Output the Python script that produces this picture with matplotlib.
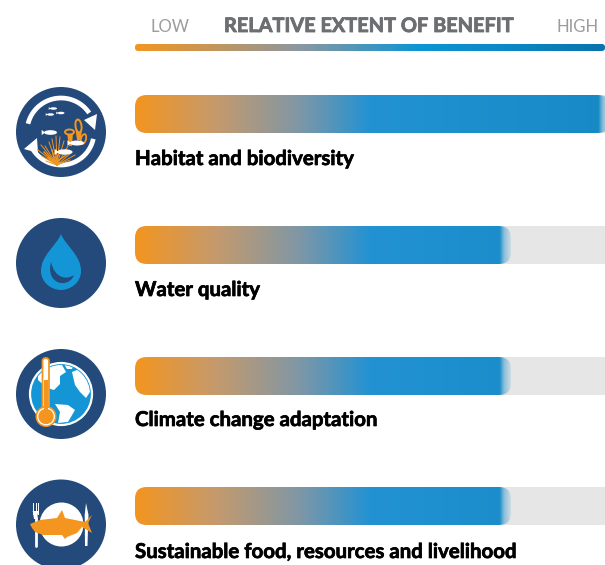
# Relative extent of benefit chart
import numpy as np
import matplotlib
matplotlib.use("Agg")
import matplotlib.pyplot as plt
import matplotlib.patheffects as pe
from matplotlib.colors import to_rgb
from matplotlib.patches import Circle, FancyBboxPatch, Polygon, Ellipse, PathPatch
from matplotlib.path import Path

# Data
categories = ["Habitat and biodiversity", "Water quality",
              "Climate change adaptation", "Sustainable food, resources and livelihood"]
benefit = [101, 80, 80, 80]  # first bar runs off the right edge
scale_low = "LOW"
scale_high = "HIGH"
scale_title = "RELATIVE EXTENT OF BENEFIT"

# Colours
ORANGE = "#F3951F"
NAVY = "#234A7B"
BLUE = "#1496D6"
bar_stops = [0, 17, 35, 50, 100]
bar_cols = [ORANGE, "#C69A6C", "#7F97A6", "#2292D3", "#178AC6"]
key_stops = [0, 35, 60, 80, 100]
key_cols = [ORANGE, "#8C97A0", "#0E95D3", "#0A88C4", "#0A72AC"]

W, H = 605, 565
fig = plt.figure(figsize=(W / 100, H / 100), dpi=100)

# pixel axes for layout and icons
ax = fig.add_axes([0, 0, 1, 1])
ax.set_xlim(0, W)
ax.set_ylim(H, 0)
ax.axis("off")

# value axes for the bars, 0-100 runs across the bar track
LEFT, RIGHT = 135, 605
ax_bar = fig.add_axes([LEFT / W, 0, (RIGHT - LEFT) / W, 1])
ax_bar.set_facecolor("none")
ax_bar.axis("off")


def ramp(xs, stops, cols):
    rgb = np.array([to_rgb(c) for c in cols])
    return np.stack([np.interp(xs, stops, rgb[:, i]) for i in range(3)], axis=1)


def draw_bar(value, y0, y1, stops, cols, radius, fade=0):
    x_end = LEFT + value / 100 * (RIGHT - LEFT)
    clip = FancyBboxPatch((LEFT, y0), x_end - LEFT, y1 - y0,
                          boxstyle=f"round,pad=0,rounding_size={radius}",
                          transform=ax.transData)
    xs = np.linspace(0, value, 940)
    rgba = np.ones((1, len(xs), 4))
    rgba[0, :, :3] = ramp(xs, stops, cols)
    if fade:
        px = LEFT + xs / 100 * (RIGHT - LEFT)
        rgba[0, :, 3] = np.interp(px, [x_end - fade, x_end - fade * 0.6, x_end], [1, 0.45, 0.12])
    im = ax_bar.imshow(rgba, extent=[0, value, y1, y0], aspect="auto", zorder=3)
    im.set_clip_path(clip)


bar_tops = [95, 226, 357, 487]
label_y = [165, 296, 426, 558]
for name, val, top, ly in zip(categories, benefit, bar_tops, label_y):
    track = FancyBboxPatch((LEFT, top), 600, 38, boxstyle="round,pad=0,rounding_size=12",
                           transform=ax.transData)
    bars = ax_bar.barh(top + 19, 100, height=38, color="#E6E6E6", zorder=1)
    bars[0].set_clip_path(track)
    draw_bar(val, top, top + 38, bar_stops, bar_cols, 12, fade=11)
    ax.text(LEFT, ly, name, family="Lato", weight="bold", fontsize=14.7, color="black",
            va="baseline", ha="left",
            path_effects=[pe.withStroke(linewidth=0.5, foreground="black")])

# scale key at the top
draw_bar(100, 44, 51, key_stops, key_cols, 3)
ax_bar.set_xlim(0, 100)
ax_bar.set_ylim(H, 0)

ax.text(151, 32, scale_low, family="Lato", weight="normal", fontsize=12, color="#9A9C9E")
ax.text(557, 32, scale_high, family="Lato", weight="normal", fontsize=12, color="#9A9C9E")
ax.text(224, 32, scale_title, family="Lato", weight="bold", fontsize=14.35, color="#6D6E71",
        path_effects=[pe.withStroke(linewidth=0.6, foreground="#6D6E71")])


# Icons
def fish(cx, cy, length, color="white"):
    ax.add_patch(Ellipse((cx, cy), length, length * 0.36, color=color, zorder=7, lw=0))
    tail = [(cx - length * 0.42, cy), (cx - length * 0.68, cy - length * 0.2),
            (cx - length * 0.68, cy + length * 0.2)]
    ax.add_patch(Polygon(tail, color=color, zorder=7, lw=0))


def icon_habitat(cx, cy):
    t = np.radians(np.linspace(166, 34, 60))
    ax.plot(cx + 34 * np.cos(t), cy - 34 * np.sin(t), color="white", lw=3.4, zorder=5,
            solid_capstyle="butt")
    t = np.radians(np.linspace(212, 348, 60))
    ax.plot(cx + 33 * np.cos(t), cy - 33 * np.sin(t), color="white", lw=3.4, zorder=5,
            solid_capstyle="butt")
    ax.add_patch(Polygon([(84, 120), (97, 114), (95, 130)], color="white", zorder=5, lw=0))
    ax.add_patch(Polygon([(24, 149), (37, 138), (38, 153)], color="white", zorder=5, lw=0))
    # seaweed fan
    for x1, y1 in [(38, 150), (41, 145), (45, 146), (49, 142), (52, 139), (56, 136), (60, 137),
                   (64, 141), (68, 146), (42, 156), (46, 161), (72, 152), (70, 160), (75, 155)]:
        ax.plot([57, x1], [165, y1], color=ORANGE, lw=0.7, zorder=5)
    for x1, y1 in [(48, 158), (52, 150), (60, 150), (66, 155), (44, 152)]:
        ax.plot([55, x1], [163, y1], color=ORANGE, lw=1.0, zorder=5)
    # sponges
    ax.add_patch(Polygon([(67, 133), (73, 133), (72, 146), (69, 146)], color=ORANGE, zorder=5, lw=0))
    ax.add_patch(Ellipse((69.5, 132), 9, 5, fc=NAVY, ec=ORANGE, lw=1.4, zorder=6))
    ax.add_patch(Polygon([(75, 126), (82, 126), (81, 140), (77, 140)], color=ORANGE, zorder=4, lw=0))
    ax.add_patch(Ellipse((78.5, 126), 6, 13, angle=-8, fc=NAVY, ec=ORANGE, lw=1.4, zorder=5))
    ax.add_patch(Ellipse((83.5, 139), 5, 10, angle=15, fc=NAVY, ec=ORANGE, lw=1.3, zorder=5))
    fish(53.5, 108.5, 7)
    fish(50.5, 114.5, 7)
    fish(61, 113, 7)
    fish(50.5, 132.5, 13)
    fish(65, 152, 15)
    fish(77, 143, 14)


def icon_water(cx, cy):
    verts = [(cx, cy - 29), (cx - 4, cy - 18), (cx - 20, cy - 8), (cx - 20, cy + 8),
             (cx - 20, cy + 20), (cx - 9, cy + 27), (cx, cy + 27),
             (cx + 9, cy + 27), (cx + 20, cy + 20), (cx + 20, cy + 8),
             (cx + 20, cy - 8), (cx + 4, cy - 18), (cx, cy - 29), (cx, cy - 29)]
    codes = [Path.MOVETO] + [Path.CURVE4] * 12 + [Path.CLOSEPOLY]
    ax.add_patch(PathPatch(Path(verts, codes), fc=BLUE, lw=0, zorder=5))
    verts = [(cx - 10, cy - 1), (cx - 16, cy + 22), (cx + 8, cy + 26), (cx + 13, cy + 12),
             (cx + 6, cy + 17), (cx - 6, cy + 16), (cx - 10, cy - 1), (cx - 10, cy - 1)]
    codes = [Path.MOVETO] + [Path.CURVE4] * 6 + [Path.CLOSEPOLY]
    ax.add_patch(PathPatch(Path(verts, codes), fc=NAVY, lw=0, zorder=6))


def icon_climate(cx, cy):
    ax.add_patch(Circle((cx, cy), 31, fc=BLUE, ec="white", lw=1.6, zorder=5))
    globe = Circle((cx, cy), 29, transform=ax.transData)
    land = [[(38, 368), (50, 364), (62, 365), (66, 372), (60, 376), (60, 384), (54, 390), (47, 388), (38, 380)],
            [(64, 364), (74, 364), (72, 369), (67, 369)],
            [(72, 372), (82, 368), (90, 380), (90, 392), (86, 398), (80, 392), (75, 385)],
            [(55, 404), (68, 405), (75, 410), (68, 422), (58, 423), (60, 412)]]
    for pts in land:
        p = Polygon(pts, color="white", zorder=6, lw=0)
        ax.add_patch(p)
        p.set_clip_path(globe)
    # thermometer
    ax.add_patch(FancyBboxPatch((42.5, 358), 6.5, 52, boxstyle="round,pad=0,rounding_size=3",
                                fc="white", ec=ORANGE, lw=1.3, zorder=7))
    ax.add_patch(Polygon([(43.5, 380), (48, 380), (48, 412), (43.5, 412)], color=ORANGE, zorder=8, lw=0))
    ax.add_patch(Circle((46, 416.5), 10.5, fc=ORANGE, lw=0, zorder=8))
    ax.add_patch(Circle((46, 416.5), 8.3, fc=ORANGE, ec="white", lw=0.9, zorder=9))
    ax.add_patch(Polygon([(43.5, 404), (48, 404), (48, 412), (43.5, 412)], color=ORANGE, zorder=10, lw=0))


def icon_food(cx, cy):
    ax.add_patch(Circle((cx + 0.5, cy), 22, fc="white", lw=0, zorder=5))
    # fork
    ax.plot([35.5, 35.5], [517, 546], color="white", lw=2.0, zorder=5, solid_capstyle="round")
    for x in [33, 35.5, 38]:
        ax.plot([x, x], [503, 514], color="white", lw=0.7, zorder=5)
    ax.add_patch(Polygon([(32.7, 511), (38.3, 511), (37, 519), (34, 519)], color="white", zorder=5, lw=0))
    # knife
    ax.add_patch(Polygon([(86, 503), (88.5, 515), (88, 528), (87.5, 546), (85, 546), (84.7, 515)],
                         color="white", zorder=5, lw=0))
    body = [(30, 524), (40, 520), (57, 518), (62, 510), (65, 518), (80, 521), (85, 522),
            (92, 515), (88, 523), (92, 533), (82, 527), (77, 533), (67, 537), (65, 539),
            (62, 535), (43, 535), (35, 532), (32, 528)]
    ax.add_patch(Polygon(body, color=ORANGE, zorder=7, lw=0))


icon_funcs = [icon_habitat, icon_water, icon_climate, icon_food]
icon_y = [132, 263, 394, 524.5]
for func, y in zip(icon_funcs, icon_y):
    ax.add_patch(Circle((61, y), 45, fc=NAVY, lw=0, zorder=2))
    func(61, y)

fig.savefig("out.png", dpi=100)
